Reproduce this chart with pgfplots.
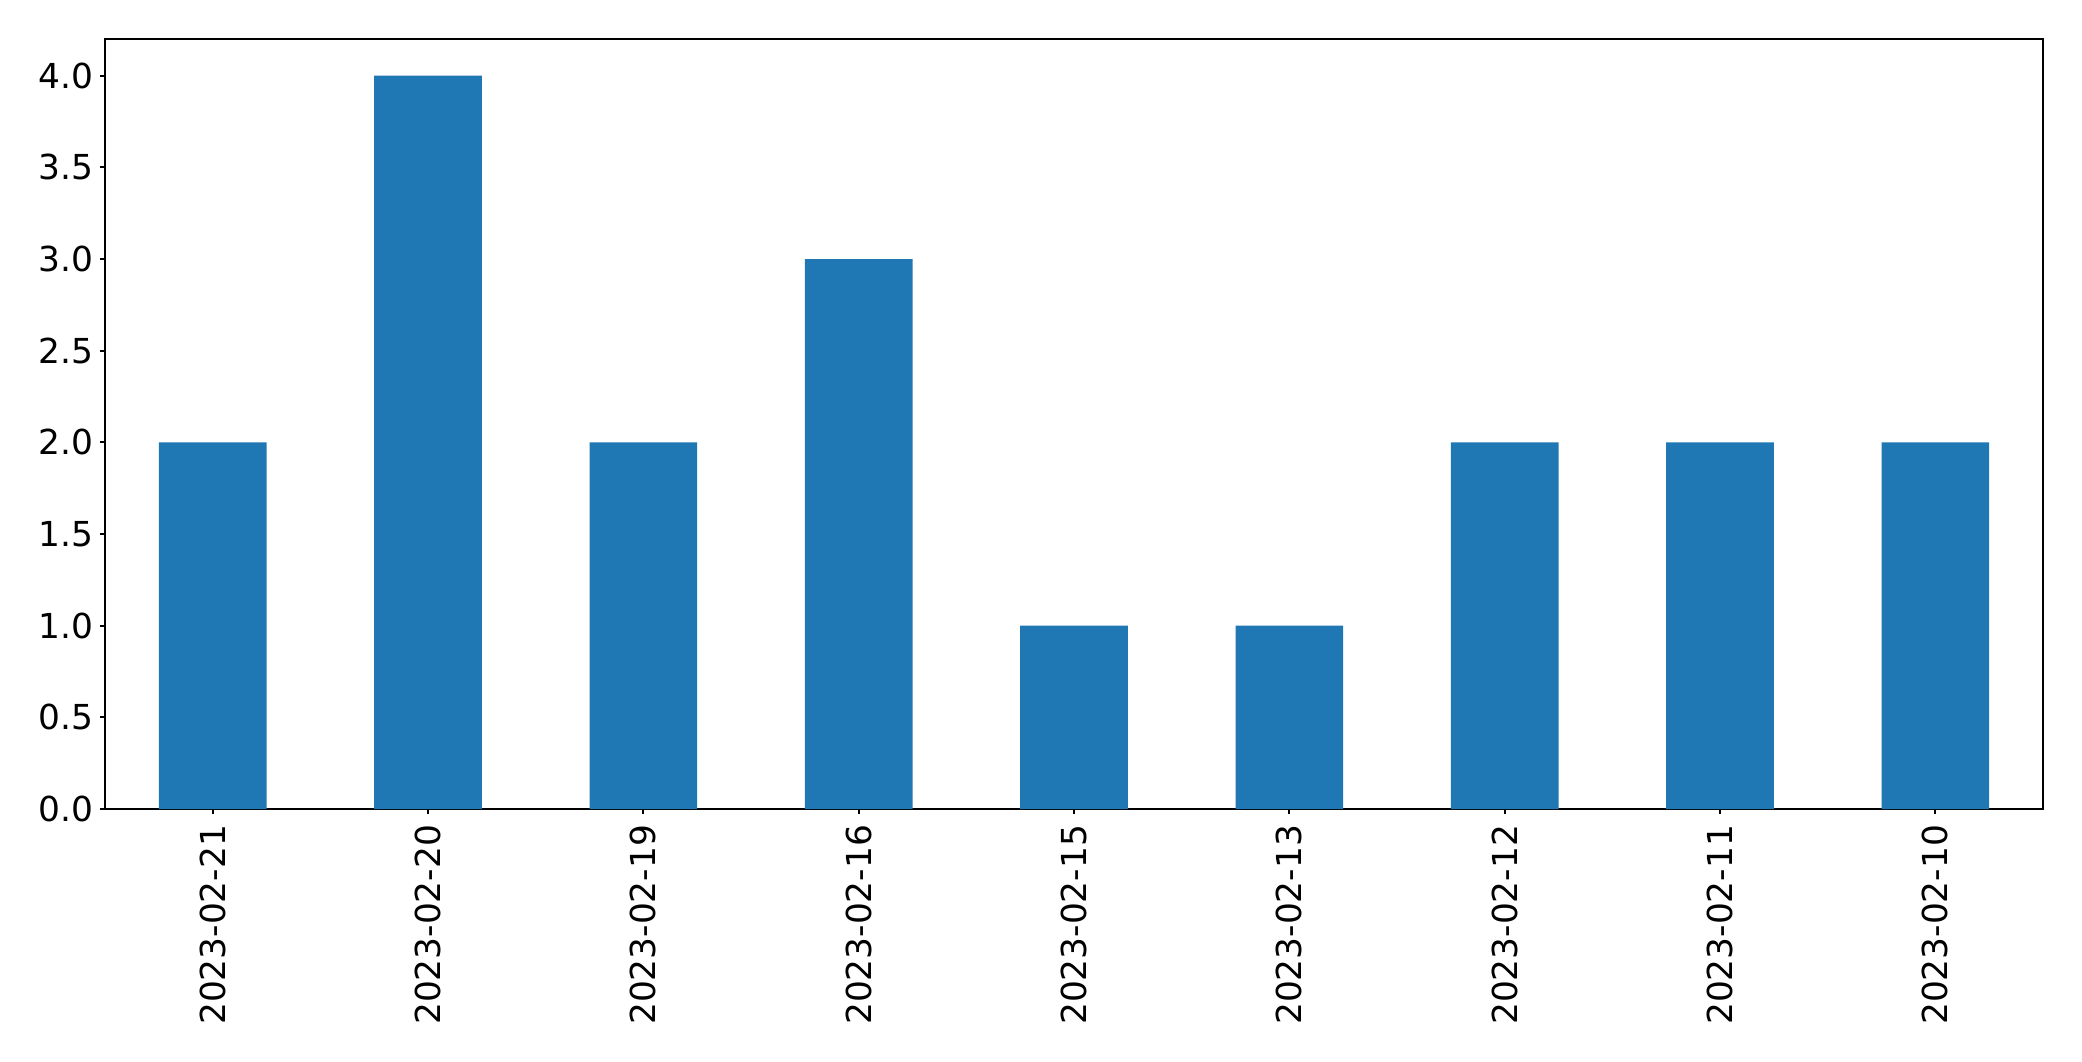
\documentclass[border=0pt]{standalone}
\usepackage{pgfplots}
\pgfplotsset{compat=1.18}
\usepackage{fontspec}
\setmainfont{DejaVu Sans}
\usetikzlibrary{calc}
\definecolor{mplblue}{HTML}{1F77B4}
\begin{document}
\begin{tikzpicture}
\begin{axis}[
  name=ax,
  scale only axis,
  width=484.5pt, height=192.5pt,
  xmin=-0.5, xmax=8.5,
  ymin=0, ymax=4.2,
  xtick={0,1,2,3,4,5,6,7,8},
  xticklabels={2023-02-21,2023-02-20,2023-02-19,2023-02-16,2023-02-15,2023-02-13,2023-02-12,2023-02-11,2023-02-10},
  x tick label style={rotate=90, anchor=east, font=\fontsize{8.6pt}{9pt}\selectfont},
  ytick={0,0.5,1,1.5,2,2.5,3,3.5,4},
  yticklabels={0.0,0.5,1.0,1.5,2.0,2.5,3.0,3.5,4.0},
  y tick label style={font=\fontsize{8.6pt}{9pt}\selectfont},
  tick align=outside,
  tick pos=left,
  major tick length=1.25pt,
  every tick/.style={black, line width=0.45pt},
  axis line style={line width=0.45pt},
  /pgf/number format/assume math mode=true,
  xticklabel shift=-0.8pt,
  yticklabel shift=-1.8pt,
  ybar, bar width=0.5,
  bar shift=0pt,
]
\addplot[fill=mplblue, draw=none] coordinates {
 (0,2) (1,4) (2,2) (3,3) (4,1) (5,1) (6,2) (7,2) (8,2)
};
\end{axis}
\path[use as bounding box] ($(ax.south west)+(-26.25pt,-63pt)$) rectangle ($(ax.north east)+(9.75pt,9.75pt)$);
\end{tikzpicture}
\end{document}
